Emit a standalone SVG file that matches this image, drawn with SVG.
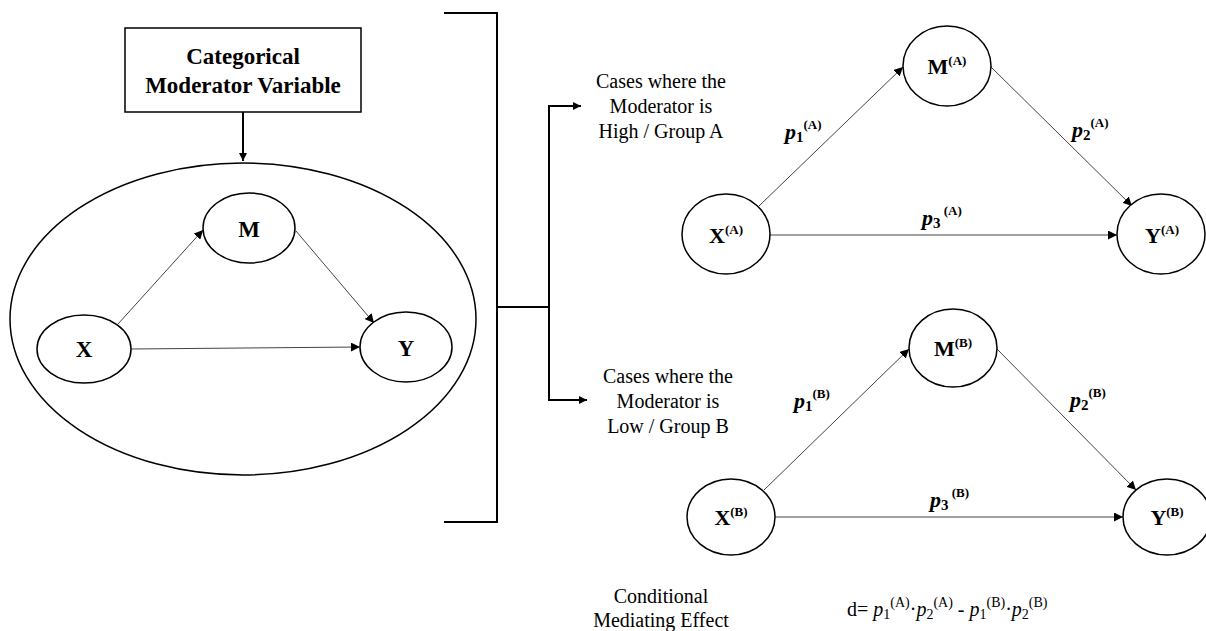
<svg xmlns="http://www.w3.org/2000/svg" width="1206" height="631" viewBox="0 0 1206 631">
<defs>
<marker id="ah" viewBox="0 0 10 10" refX="10" refY="5" markerWidth="9" markerHeight="9" markerUnits="userSpaceOnUse" orient="auto">
<path d="M0,0 L10,5 L0,10 z" fill="#000"/>
</marker>
<marker id="ah2" viewBox="0 0 10 10" refX="10" refY="5" markerWidth="8" markerHeight="8" markerUnits="userSpaceOnUse" orient="auto">
<path d="M0,0 L10,5 L0,10 z" fill="#000"/>
</marker>
</defs>
<style>
text{font-family:"Liberation Serif","Times New Roman",serif;fill:#000}
.node{fill:#fff;stroke:#000;stroke-width:1.5}
.b{font-weight:bold}
.big{font-size:23px;font-weight:bold}
.nl{font-size:22px;font-weight:bold}
.sup{font-size:13px;font-weight:bold;font-style:normal}
.sub{font-size:15px;font-weight:bold;font-style:normal}
.plain{font-size:20px}
.edge{stroke:#444;stroke-width:1;fill:none}
.br{stroke:#000;stroke-width:2;fill:none}
.pl{font-size:22px;font-weight:bold;font-style:italic}
.f{font-size:20px}
.fs{font-size:14px}
</style>
<rect width="1206" height="631" fill="#fff"/>

<g id="connectors">
<line class="br" x1="243" y1="112" x2="243" y2="161" marker-end="url(#ah2)"/>
<line class="edge" x1="118" y1="324" x2="203" y2="230" marker-end="url(#ah)"/>
<line class="edge" x1="296" y1="231" x2="374" y2="323" marker-end="url(#ah)"/>
<line class="edge" x1="131" y1="349" x2="360" y2="347" marker-end="url(#ah)"/>
<polyline class="br" points="444,13 497,13 497,522 444,522"/>
<line class="br" x1="497" y1="307" x2="549" y2="307"/>
<line class="br" x1="549" y1="106" x2="549" y2="400"/>
<line class="br" x1="548" y1="106" x2="581" y2="106" marker-end="url(#ah2)"/>
<line class="br" x1="548" y1="400" x2="587" y2="400" marker-end="url(#ah2)"/>
<line class="edge" x1="759" y1="206" x2="903" y2="67" marker-end="url(#ah)"/>
<line class="edge" x1="991" y1="67" x2="1132" y2="206" marker-end="url(#ah)"/>
<line class="edge" x1="770" y1="235" x2="1117" y2="235" marker-end="url(#ah)"/>
<line class="edge" x1="764" y1="490" x2="909" y2="349" marker-end="url(#ah)"/>
<line class="edge" x1="997" y1="349" x2="1136" y2="490" marker-end="url(#ah)"/>
<line class="edge" x1="775" y1="517" x2="1123" y2="517" marker-end="url(#ah)"/>
</g>

<g id="moderator">
<rect x="125" y="28" width="236" height="84" fill="#fff" stroke="#000" stroke-width="1.5"/>
<text x="243" y="64" text-anchor="middle" font-size="23" class="b">Categorical</text>
<text x="243" y="93" text-anchor="middle" font-size="23" class="b">Moderator Variable</text>
</g>

<g id="outer">
<ellipse cx="243" cy="319" rx="233" ry="156" fill="none" stroke="#000" stroke-width="1.5"/>
</g>
<g id="M"><ellipse class="node" cx="249" cy="228" rx="46" ry="35"/><text class="big" x="249" y="237" text-anchor="middle">M</text></g>
<g id="X"><ellipse class="node" cx="84" cy="349" rx="47" ry="34"/><text class="big" x="84" y="357" text-anchor="middle">X</text></g>
<g id="Y"><ellipse class="node" cx="406" cy="347" rx="46" ry="35"/><text class="big" x="406" y="356" text-anchor="middle">Y</text></g>

<g id="labelA">
<text class="plain" x="661" y="88" text-anchor="middle">Cases where the</text>
<text class="plain" x="661" y="113" text-anchor="middle">Moderator is</text>
<text class="plain" x="661" y="138" text-anchor="middle">High / Group A</text>
</g>
<g id="labelB">
<text class="plain" x="668" y="383" text-anchor="middle">Cases where the</text>
<text class="plain" x="668" y="408" text-anchor="middle">Moderator is</text>
<text class="plain" x="668" y="433" text-anchor="middle">Low / Group B</text>
</g>

<g id="MA"><ellipse class="node" cx="947" cy="66" rx="44" ry="40"/><text class="nl" x="947" y="74" text-anchor="middle">M<tspan class="sup" dy="-9">(A)</tspan></text></g>
<g id="XA"><ellipse class="node" cx="726" cy="234" rx="44" ry="40"/><text class="nl" x="726" y="243" text-anchor="middle">X<tspan class="sup" dy="-9">(A)</tspan></text></g>
<g id="YA"><ellipse class="node" cx="1161" cy="234" rx="44" ry="40"/><text class="nl" x="1162" y="243" text-anchor="middle">Y<tspan class="sup" dy="-9">(A)</tspan></text></g>

<g id="MB"><ellipse class="node" cx="953" cy="348" rx="44" ry="39"/><text class="nl" x="953" y="356" text-anchor="middle">M<tspan class="sup" dy="-9">(B)</tspan></text></g>
<g id="XB"><ellipse class="node" cx="731" cy="517" rx="44" ry="38"/><text class="nl" x="731" y="525" text-anchor="middle">X<tspan class="sup" dy="-9">(B)</tspan></text></g>
<g id="YB"><ellipse class="node" cx="1167" cy="517" rx="44" ry="38"/><text class="nl" x="1167" y="525" text-anchor="middle">Y<tspan class="sup" dy="-9">(B)</tspan></text></g>

<g id="pathlabels">
<text class="pl" x="785" y="139">p<tspan class="sub" dy="3">1</tspan><tspan class="sup" dy="-13">(A)</tspan></text>
<text class="pl" x="1072" y="137">p<tspan class="sub" dy="3">2</tspan><tspan class="sup" dy="-13">(A)</tspan></text>
<text class="pl" x="922" y="225">p<tspan class="sub" dy="3">3</tspan><tspan class="sup" dy="-13"> (A)</tspan></text>
<text class="pl" x="794" y="408">p<tspan class="sub" dy="3">1</tspan><tspan class="sup" dy="-13">(B)</tspan></text>
<text class="pl" x="1070" y="407">p<tspan class="sub" dy="3">2</tspan><tspan class="sup" dy="-13">(B)</tspan></text>
<text class="pl" x="930" y="507">p<tspan class="sub" dy="3">3</tspan><tspan class="sup" dy="-13"> (B)</tspan></text>
</g>

<g id="effect">
<text class="plain" x="661" y="603" text-anchor="middle">Conditional</text>
<text class="plain" x="661" y="627" text-anchor="middle">Mediating Effect</text>
<text class="f" x="847" y="616">d= <tspan font-style="italic">p</tspan><tspan class="fs" dy="3">1</tspan><tspan class="fs" dy="-12">(A)</tspan><tspan dy="9">·</tspan><tspan font-style="italic">p</tspan><tspan class="fs" dy="3">2</tspan><tspan class="fs" dy="-12">(A)</tspan><tspan dy="9"> - </tspan><tspan font-style="italic">p</tspan><tspan class="fs" dy="3">1</tspan><tspan class="fs" dy="-12">(B)</tspan><tspan dy="9">·</tspan><tspan font-style="italic">p</tspan><tspan class="fs" dy="3">2</tspan><tspan class="fs" dy="-12">(B)</tspan></text>
</g>
</svg>
